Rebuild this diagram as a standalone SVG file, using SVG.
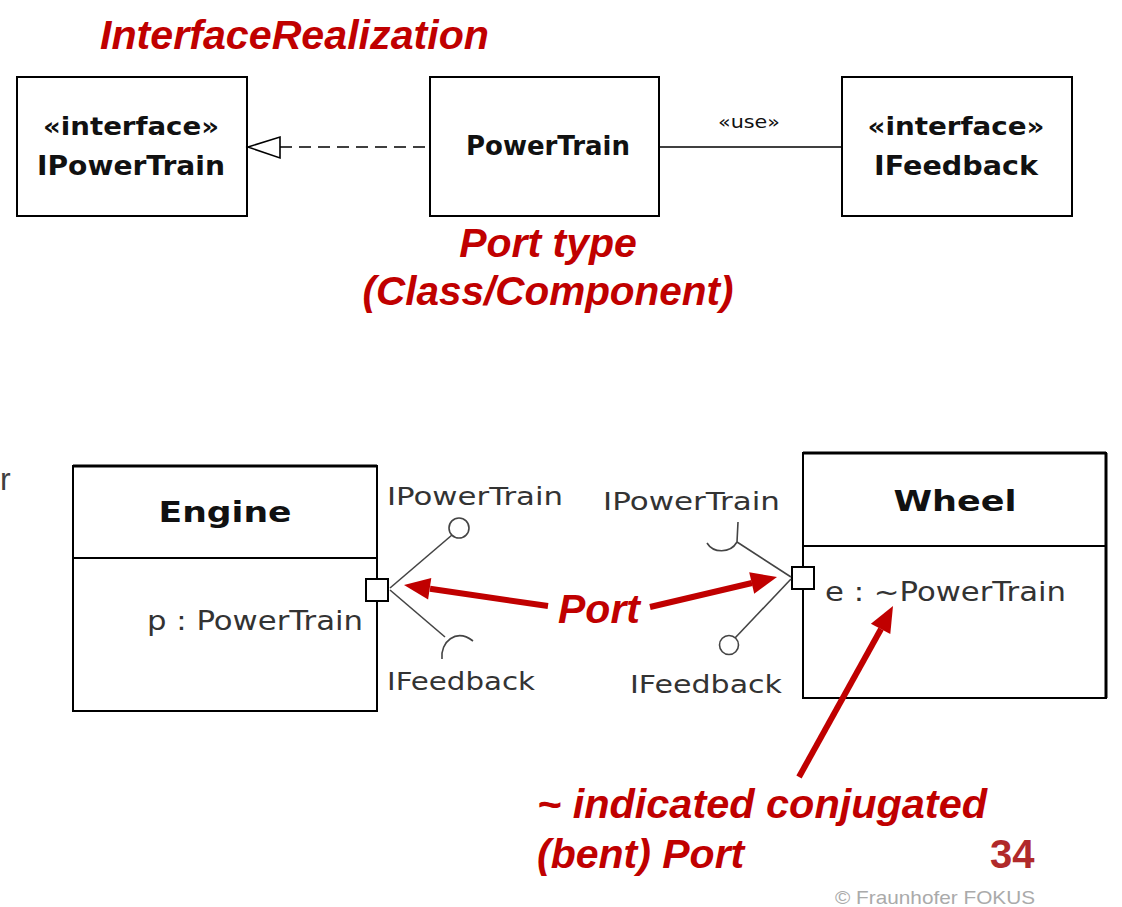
<svg xmlns="http://www.w3.org/2000/svg" width="1122" height="907" viewBox="0 0 1122 907">
<style>
.box{fill:#fff;stroke:#000;stroke-width:2}
.sep{stroke:#000;stroke-width:2}
.uml{font-family:"DejaVu Sans",Verdana,sans-serif;fill:#111}
.b{font-weight:bold}
.reg{fill:#333}
.red{font-family:"Liberation Sans",Arial,sans-serif;font-weight:bold;font-style:italic;font-size:41px;fill:#c00000}
.conn{stroke:#444;stroke-width:1.6;fill:none}
.rarrow{stroke:#c00000;stroke-width:6;fill:none}
.rhead{fill:#c00000}
</style>
<rect width="1122" height="907" fill="#fff"/>
<text x="0" y="490" font-family="'Liberation Sans',Arial,sans-serif" font-size="32" fill="#404040">r</text>

<g id="title">
<text class="red" x="100" y="49" textLength="389" lengthAdjust="spacingAndGlyphs">InterfaceRealization</text>
</g>

<g id="IPowerTrain">
<rect class="box" x="17" y="77" width="230" height="139"/>
<text class="uml b" x="131" y="135" font-size="24" text-anchor="middle" textLength="176" lengthAdjust="spacingAndGlyphs">«interface»</text>
<text class="uml b" x="131" y="175" font-size="26" text-anchor="middle" textLength="188" lengthAdjust="spacingAndGlyphs">IPowerTrain</text>
</g>

<g id="PowerTrain">
<rect class="box" x="430" y="77" width="229" height="139"/>
<text class="uml b" x="548" y="155" font-size="26" text-anchor="middle" textLength="164" lengthAdjust="spacingAndGlyphs">PowerTrain</text>
</g>

<g id="IFeedback">
<rect class="box" x="842" y="77" width="230" height="139"/>
<text class="uml b" x="956" y="135" font-size="24" text-anchor="middle" textLength="177" lengthAdjust="spacingAndGlyphs">«interface»</text>
<text class="uml b" x="956" y="175" font-size="26" text-anchor="middle" textLength="164" lengthAdjust="spacingAndGlyphs">IFeedback</text>
</g>

<g id="porttype-label">
<text class="red" x="548" y="257" text-anchor="middle">Port type</text>
<text class="red" x="548" y="305" text-anchor="middle" textLength="371" lengthAdjust="spacingAndGlyphs">(Class/Component)</text>
</g>

<g id="Engine">
<rect class="box" x="73" y="466" width="304" height="245"/>
<line x1="73" y1="466" x2="377" y2="466" stroke="#000" stroke-width="3"/>
<line class="sep" x1="73" y1="558" x2="377" y2="558"/>
<text class="uml b" x="225" y="522" font-size="28" text-anchor="middle" textLength="133" lengthAdjust="spacingAndGlyphs">Engine</text>
<text class="uml reg" x="147" y="630" font-size="26" textLength="216" lengthAdjust="spacingAndGlyphs">p : PowerTrain</text>
<rect class="box" x="366" y="579" width="22" height="22"/>
</g>

<g id="Wheel">
<rect class="box" x="803" y="453" width="303" height="245"/>
<line x1="803" y1="453" x2="1106" y2="453" stroke="#000" stroke-width="3"/>
<line x1="1106" y1="453" x2="1106" y2="698" stroke="#000" stroke-width="3"/>
<line class="sep" x1="803" y1="546" x2="1106" y2="546"/>
<text class="uml b" x="955" y="511" font-size="28" text-anchor="middle" textLength="123" lengthAdjust="spacingAndGlyphs">Wheel</text>
<text class="uml reg" x="825" y="601" font-size="26" textLength="241" lengthAdjust="spacingAndGlyphs">e : ~PowerTrain</text>
<rect class="box" x="792" y="567" width="22" height="22"/>
</g>

<g id="connectors">
<line x1="280" y1="147" x2="430" y2="147" stroke="#000" stroke-width="1.6" stroke-dasharray="12,7"/>
<polygon points="248,147 280,137 280,158" fill="#fff" stroke="#000" stroke-width="1.6"/>
<line x1="659" y1="147" x2="842" y2="147" stroke="#000" stroke-width="1.6"/>
<text class="uml" x="749" y="128" font-size="17" fill="#444" text-anchor="middle" textLength="62" lengthAdjust="spacingAndGlyphs">«use»</text>

<line class="conn" x1="390" y1="588" x2="452" y2="535"/>
<circle class="conn" cx="459" cy="528" r="10"/>
<line class="conn" x1="390" y1="590" x2="445" y2="637"/>
<path class="conn" d="M442,659 C440,642 456,628 473,641" stroke-width="2"/>
<text class="uml reg" x="387" y="505" font-size="24" textLength="176" lengthAdjust="spacingAndGlyphs">IPowerTrain</text>
<text class="uml reg" x="387" y="690" font-size="24" textLength="148" lengthAdjust="spacingAndGlyphs">IFeedback</text>

<line class="conn" x1="791" y1="577" x2="737" y2="542"/>
<path class="conn" d="M707,543 C713,553 730,554 737,542 L738,522" stroke-width="2"/>
<line class="conn" x1="791" y1="579" x2="735" y2="638"/>
<circle class="conn" cx="729" cy="645" r="9.5"/>
<text class="uml reg" x="603" y="510" font-size="24" textLength="177" lengthAdjust="spacingAndGlyphs">IPowerTrain</text>
<text class="uml reg" x="630" y="693" font-size="24" textLength="152" lengthAdjust="spacingAndGlyphs">IFeedback</text>
</g>

<g id="annotations">
<text class="red" x="558" y="623">Port</text>
<line class="rarrow" x1="548" y1="606" x2="430" y2="588.8"/>
<polygon class="rhead" points="404,585 431.3,577.9 428.1,599.6"/>
<line class="rarrow" x1="650" y1="607" x2="752" y2="583"/>
<polygon class="rhead" points="777,577 754.2,593.7 749.2,572.3"/>
<line class="rarrow" x1="799" y1="777" x2="881" y2="629"/>
<polygon class="rhead" points="893,606 890.3,634.1 870.9,623.7"/>
<text class="red" x="537" y="818" textLength="450" lengthAdjust="spacingAndGlyphs">~ indicated conjugated</text>
<text class="red" x="537" y="868">(bent) Port</text>
<text x="990" y="868" font-family="'Liberation Sans',Arial,sans-serif" font-weight="bold" font-size="40" fill="#b02a2a">34</text>
<text x="835" y="904" font-family="'Liberation Sans',Arial,sans-serif" font-size="19" fill="#aaa" textLength="200" lengthAdjust="spacingAndGlyphs">© Fraunhofer FOKUS</text>
</g>
</svg>
